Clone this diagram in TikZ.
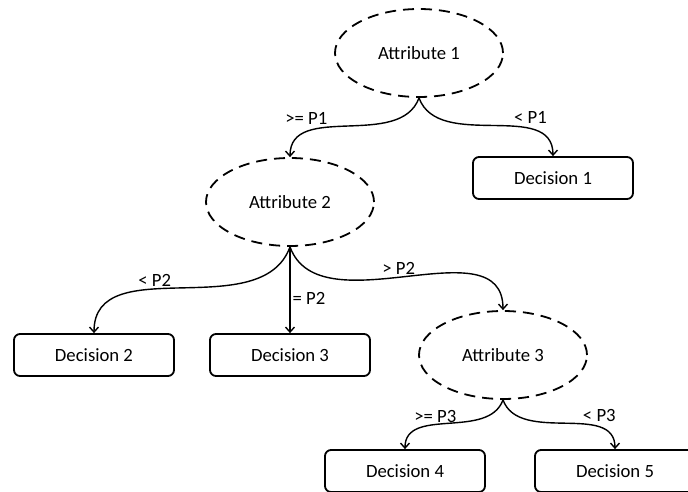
\documentclass[tikz,border=0pt]{standalone}
\usepackage{fontspec}
\setmainfont{Carlito}
\usetikzlibrary{shapes,arrows.meta}
\tikzstyle{line} = [draw, line width=1.4pt, -{Straight Barb[length=5pt,width=9pt]}]
\tikzstyle{attrib} = [draw, ellipse, dash pattern=on 11pt off 7pt, line width=1.8pt, minimum width=168pt, minimum height=88pt]
\tikzstyle{block} = [draw, rectangle, rounded corners=6pt, line width=1.8pt, minimum width=160pt, minimum height=42pt]
\tikzstyle{lbl} = [inner sep=2pt]

\begin{document}
\begin{tikzpicture}[x=1pt, y=1pt, node distance=150pt, font=\fontsize{18.7}{22}\selectfont]
        \clip (0,0) rectangle (688,491);
        \fill[white] (0,0) rectangle (688,491);
        \node[attrib] (attr1) at (419,438) {Attribute 1};
        \node[attrib, below of=attr1, node distance=149pt, xshift=-129pt] (attr2) {Attribute 2};
        \node[block, below of=attr1, node distance=125pt, xshift=134pt] (dec1) {Decision 1};
        \node[block, below of=attr2, node distance=153pt] (dec3) {Decision 3};
        \node[block, left of=dec3, node distance=196pt] (dec2) {Decision 2};
        \node[attrib, right of=dec3, node distance=213pt] (attr3) {Attribute 3};
        \node[block, below of=attr3, node distance=116pt, xshift=-98pt] (dec4) {Decision 4};
        \node[block, right of=dec4, node distance=210pt] (dec5) {Decision 5};
        \path[line] (attr1.south) to[out=-110, in=90] node[lbl, pos=0.6, above left] {>= P1} (attr2.north);
        \path[line] (attr1.south) to[out=-70, in=90] node[lbl, pos=0.6, above right] {< P1} (dec1.north);
        \path[line] (attr2.south) to[out=-110, in=90] node[lbl, pos=0.6, above] {< P2} (dec2.north);
        \path[line] (attr2.south) -- node[lbl, pos=0.6, right] {= P2} (dec3.north);
        \path[line] (attr2.south) to[out=-70, in=90] node[lbl, pos=0.47, above] {> P2} (attr3.north);
        \path[line] (attr3.south) to[out=-110, in=90] node[lbl, pos=0.6, above] {>= P3} (dec4.north);
        \path[line] (attr3.south) to[out=-70, in=90] node[lbl, pos=0.6, above right] {< P3} (dec5.north);
    \end{tikzpicture}
\end{document}
